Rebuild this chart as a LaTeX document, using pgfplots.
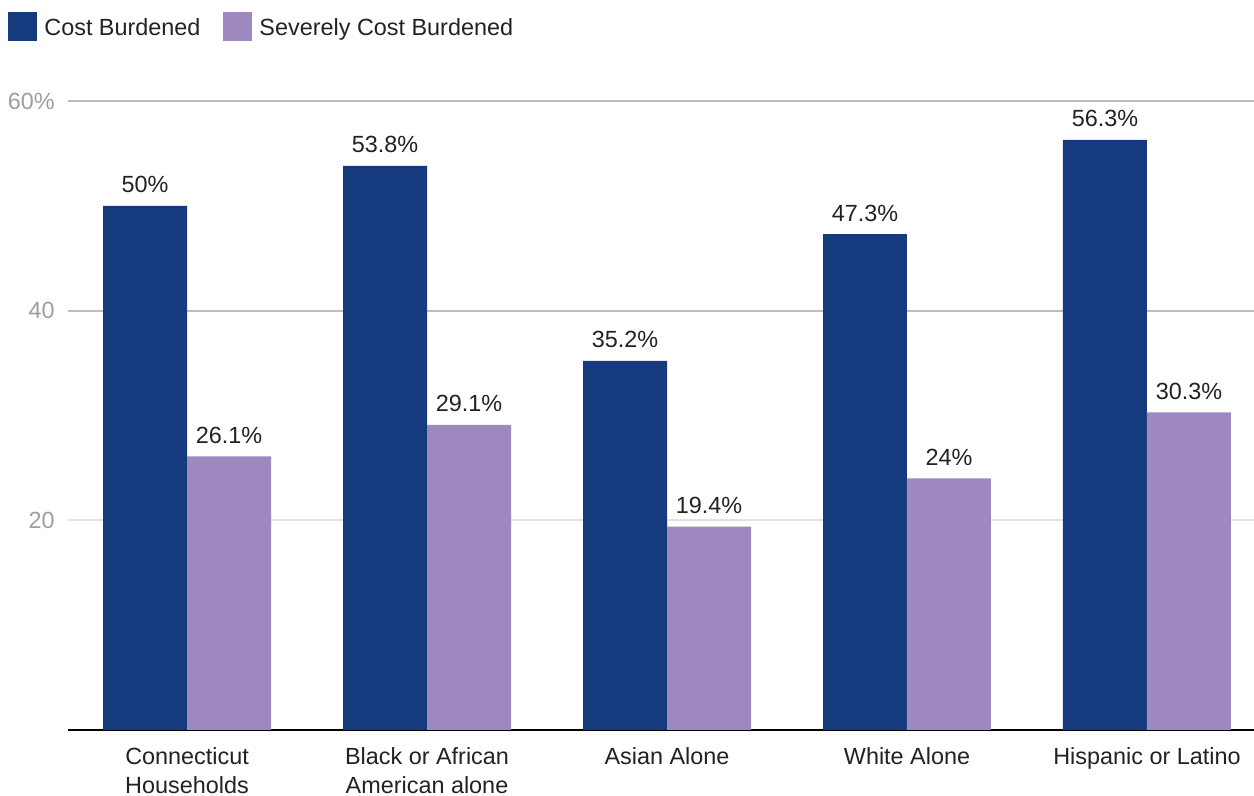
\documentclass[border=0pt]{standalone}
\usepackage{fontspec}
\setmainfont{Liberation Sans}
\usepackage{pgfplots}
\pgfplotsset{compat=1.18}
\definecolor{cbdark}{HTML}{163A7E}
\definecolor{cblight}{HTML}{9D88BF}
\definecolor{gridlight}{HTML}{E2E2E2}
\definecolor{griddark}{HTML}{BDBDBD}
\definecolor{ticklab}{HTML}{9E9E9E}
\definecolor{txt}{HTML}{222222}
\begin{document}
\begin{tikzpicture}
\begin{axis}[
  scale only axis,
  width=593pt, height=314.5pt,
  ybar=0pt, bar width=0.35,
  xmin=-0.496, xmax=4.446,
  ymin=0, ymax=60,
  axis x line*=bottom,
  axis y line*=left,
  y axis line style={draw=none},
  x axis line style={black, line width=1pt},
  xtick={0,1,2,3,4},
  xticklabels={{Connecticut\\Households},{Black or African\\American alone},{Asian Alone},{White Alone},{Hispanic or Latino}},
  xticklabel style={anchor=north, inner sep=0pt, yshift=-8.5pt, align=center, text=txt, font={\fontsize{11.7}{14.5}\selectfont}},
  major tick length=0pt,
  ytick={20},
  yticklabels={20},
  extra y ticks={40,60},
  extra y tick labels={40,60\%},
  extra y tick style={major grid style={draw=griddark, line width=1pt}},
  ymajorgrids,
  major grid style={draw=gridlight, line width=1pt},
  yticklabel style={anchor=east, inner sep=0pt, xshift=-6.5pt, text=ticklab, font={\fontsize{11.7}{14}\selectfont}},
  nodes near coords={\pgfmathprintnumber[assume math mode=true]{\pgfplotspointmeta}\%},
  every node near coord/.append style={anchor=base, inner sep=0pt, yshift=6.5pt, text=txt, font={\fontsize{11.7}{14}\selectfont}},
  clip=false,
  legend columns=2,
  legend cell align=left,
  legend style={draw=none, fill=none, at={(rel axis cs:-0.0506,1.1415)}, anchor=north west,
    inner xsep=0pt, inner ysep=0pt, column sep=3.5pt,
    nodes={inner sep=0pt, text=txt, font={\fontsize{11.7}{14}\selectfont}},
    /tikz/every even column/.append style={column sep=11.5pt}},
  legend image code/.code={\fill[#1] (0pt,-6.5pt) rectangle (14.5pt,8pt);},
]
\addplot[fill=cbdark, draw=none] coordinates {(0,50) (1,53.8) (2,35.2) (3,47.3) (4,56.3)};
\addlegendentry{Cost Burdened}
\addplot[fill=cblight, draw=none] coordinates {(0,26.1) (1,29.1) (2,19.4) (3,24) (4,30.3)};
\addlegendentry{Severely Cost Burdened}
\coordinate (bbA) at (rel axis cs:-0.05734,1.16057);
\coordinate (bbB) at (rel axis cs:1,-0.10493);
\end{axis}
\pgfresetboundingbox
\path (bbA) rectangle (bbB);
\end{tikzpicture}
\end{document}
